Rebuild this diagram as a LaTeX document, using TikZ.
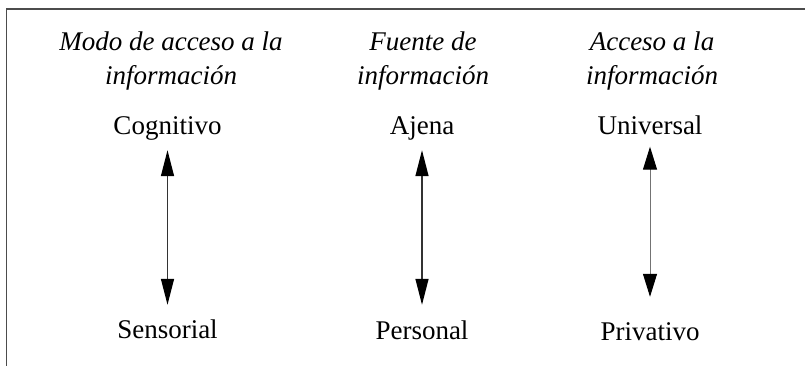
\documentclass[tikz,border=0pt]{standalone}
\usepackage{fontspec}
\setmainfont{Liberation Serif}
\usetikzlibrary{arrows.meta}
\tikzset{
<->, % both ends have a head
>={Triangle[length=26pt,width=13pt,color=black]}, % long narrow heads
every node/.style={inner sep=0pt, font=\fontsize{27}{34.5}\selectfont},
head/.style={align=center, anchor=north, font=\fontsize{27}{34.5}\selectfont\itshape}, % column titles
pole/.style={anchor=base, text height=19pt, text depth=6pt}, % the two ends of a scale
axisline/.style={line width=1.4pt, draw=black!80},
thin axisline/.style={line width=1pt, draw=black!55, >={Triangle[length=23pt,width=14pt,color=black]}},
frame/.style={-, line width=1.5pt, draw=black!70},
}
\begin{document}
\begin{tikzpicture}[x=1pt, y=-1pt]
                \useasboundingbox (0,0) rectangle (805,366);
                \draw[frame] (6.5,366) -- (6.5,9) -- (805,9);
                \node[head] (h1) at (171,31.5) {Modo de acceso a la\\informaci\'on};
                \node[head] (h2) at (423,31.5) {Fuente de\\informaci\'on};
                \node[head] (h3) at (652,31.5) {Acceso a la\\informaci\'on};
                \node[pole] (cog) at (167.5,135) {Cognitivo};
                \node[pole] (sen) at (167.5,338) {Sensorial};
                \node[pole] (aje) at (422,135) {Ajena};
                \node[pole] (per) at (422,339) {Personal};
                \node[pole] (uni) at (650,135) {Universal};
                \node[pole] (pri) at (650,340) {Privativo};
                \draw[axisline, shorten <=9pt, shorten >=14pt] (cog) -- (sen);
                \draw[axisline, shorten <=9pt, shorten >=15pt] (aje) -- (per);
                \draw[thin axisline, shorten <=5.5pt, shorten >=24pt] (uni) -- (pri);
\end{tikzpicture}
\end{document}
